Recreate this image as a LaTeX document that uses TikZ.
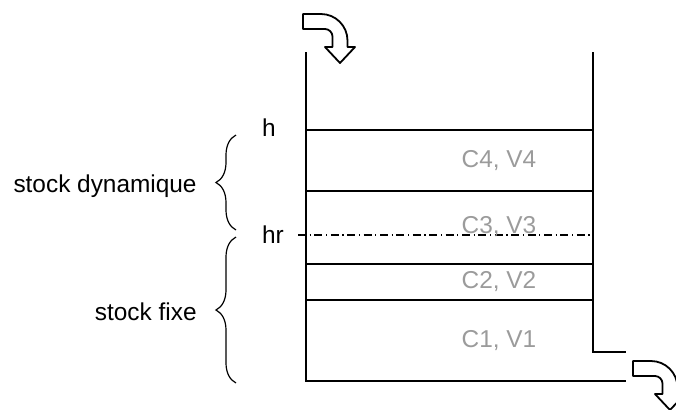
\documentclass[tikz,border=0pt]{standalone}
\usepackage{fontspec}
\setmainfont{Liberation Sans}
\usetikzlibrary{decorations.pathreplacing}
\definecolor{cv_grey}{RGB}{155,155,155}
\tikzstyle{lbl}=[inner sep=0pt,font=\fontsize{12.2}{14}\selectfont]
\tikzstyle{cv}=[lbl,text=cv_grey,anchor=base]
\tikzstyle{wall}=[line width=1pt,line join=miter]
\tikzstyle{lvl}=[line width=0.9pt]
\tikzstyle{dashdot}=[line width=0.75pt,dash pattern=on 4pt off 1.8pt on 0.6pt off 1.8pt]
\tikzstyle{accol}=[decorate,decoration={brace,amplitude=10pt},line width=0.6pt]
\tikzstyle{turn}=[line width=0.9pt,line join=round,fill=white]
\tikzset{turnarrow/.pic={
  \draw[turn] (0,0) -- (18,0) .. controls (32.6,0) and (44.5,11.9) .. (44.5,26.5)
    -- (44.5,33) -- (52,33) -- (37,49) -- (22,33) -- (29.5,33) -- (29.5,22.5)
    .. controls (29.5,18.4) and (26.1,15) .. (22,15) -- (0,15) -- cycle;
}}

\begin{document}
\begin{tikzpicture}[x=0.5pt,y=-0.5pt]
        \useasboundingbox (0,0) rectangle (676,409);
        \coordinate (tl) at (306,52);
        \coordinate (bl) at (306,381);
        \coordinate (bo) at (626,381);
        \coordinate (tr) at (593,52);
        \coordinate (br) at (593,352);
        \coordinate (ro) at (626,352);
        \coordinate (hrl) at (298,235);
        \coordinate (hrr) at (593,235);
        \draw[wall] (tl) -- (bl) -- (bo);
        \draw[wall] (tr) -- (br) -- (ro);
        \foreach \y in {130,191,264,300}
            \draw[lvl] (306,\y) -- (593,\y);
        \draw[dashdot] (hrl) -- (hrr);
        \node[cv] (c4) at (499,167) {C4, V4};
        \node[cv] (c3) at (499,233) {C3, V3};
        \node[cv] (c2) at (499,288) {C2, V2};
        \node[cv] (c1) at (499,347) {C1, V1};
        \node[lbl,anchor=base] (h) at (269,136) {h};
        \node[lbl,anchor=base] (hr) at (273,243) {hr};
        \coordinate (dyntop) at (236,135);
        \coordinate (dynbot) at (236,230);
        \coordinate (fixtop) at (236,237);
        \coordinate (fixbot) at (236,383);
        \draw[accol] (dynbot) -- (dyntop);
        \draw[accol] (fixbot) -- (fixtop);
        \node[lbl,anchor=base east] (dyn) at (197,192) {stock dynamique};
        \node[lbl,anchor=base east] (fix) at (197,320) {stock fixe};
        \pic (arin) at (303,14) {turnarrow};
        \pic (arout) at (633,361) {turnarrow};
    \end{tikzpicture}
\end{document}
